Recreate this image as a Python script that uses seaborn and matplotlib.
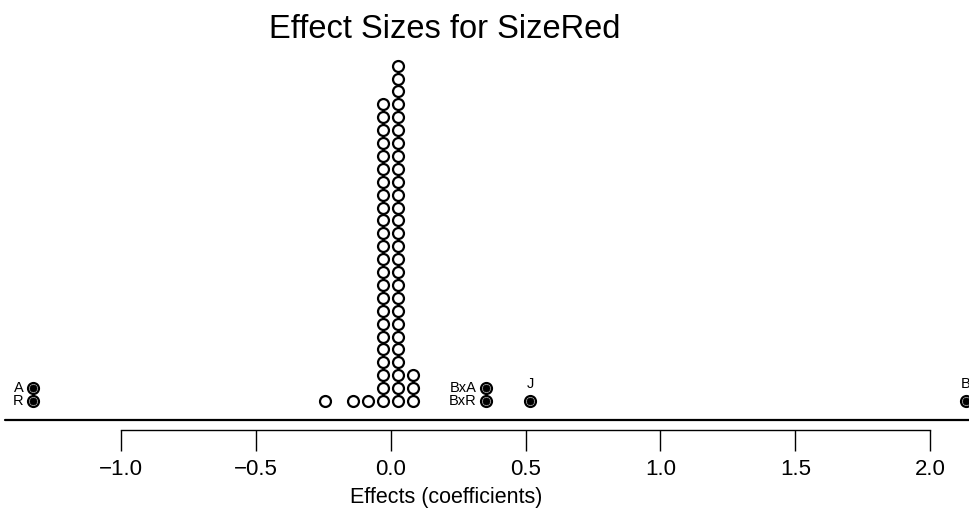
import matplotlib
matplotlib.use("Agg")
import matplotlib.pyplot as plt
import numpy as np
import pandas as pd
import seaborn as sns

# ---- data ----
null_values = [-0.243, -0.140, -0.084, -0.028, 0.027, 0.083]
null_counts = [1, 1, 1, 24, 27, 3]
named_effects = ["R", "A", "BxR", "BxA", "J", "B"]
named_values = [-1.326, -1.326, 0.354, 0.354, 0.517, 2.133]
tick_values = [-1.0, -0.5, 0.0, 0.5, 1.0, 1.5, 2.0]
tick_labels = ["\u22121.0", "\u22120.5", "0.0", "0.5", "1.0", "1.5", "2.0"]
title = "Effect Sizes for SizeRed"
xlabel = "Effects (coefficients)"

sns.set_theme(style="white")
plt.rcParams["font.family"] = ["Liberation Sans", "DejaVu Sans"]
plt.rcParams["text.color"] = "black"
plt.rcParams["axes.labelcolor"] = "black"
plt.rcParams["xtick.color"] = "black"

# stacked dot positions
rows = []
for v, c in zip(null_values, null_counts):
    for k in range(c):
        rows.append({"effect": v, "level": k + 1})
null_df = pd.DataFrame(rows)

lvl = []
seen = {}
for v in named_values:
    seen[v] = seen.get(v, 0) + 1
    lvl.append(seen[v])
named_df = pd.DataFrame({"name": named_effects, "effect": named_values, "level": lvl})
dup = named_df.groupby("effect")["name"].transform("count") > 1
named_df["side"] = np.where(dup, "left", "above")

W, H = 969, 518
fig = plt.figure(figsize=(W / 100, H / 100), dpi=100)
base_px = 420
top_px = 50
ax = fig.add_axes([0, (H - base_px) / H, 1, (base_px - top_px) / H])
px_per_unit = 269.7
x0 = -1.0 - 121 / px_per_unit
x1 = x0 + W / px_per_unit
ax.set_xlim(x0, x1)
step = 12.9
y_base = (413.9 - base_px) / step
y_top = (413.9 - top_px) / step
ax.set_ylim(y_base, y_top)

sns.scatterplot(data=null_df, x="effect", y="level", ax=ax, s=62, marker="o",
                facecolor="white", edgecolor="black", linewidth=1.6, zorder=3,
                legend=False, clip_on=False)
sns.scatterplot(data=named_df, x="effect", y="level", ax=ax, s=62, marker="o",
                facecolor="white", edgecolor="black", linewidth=1.6, zorder=3,
                legend=False, clip_on=True)
sns.scatterplot(data=named_df, x="effect", y="level", ax=ax, s=26, marker="o",
                facecolor="black", edgecolor="black", linewidth=0.5, zorder=4,
                legend=False, clip_on=True)

for _, r in named_df.iterrows():
    if r["side"] == "left":
        ax.annotate(r["name"], (r["effect"], r["level"]), xytext=(-7, 0),
                    textcoords="offset points", ha="right", va="center",
                    fontsize=10.5, color="black")
    else:
        ax.annotate(r["name"], (r["effect"], r["level"]), xytext=(0, 12),
                    textcoords="offset points", ha="center", va="center",
                    fontsize=10.5, color="black")

# baseline
ax.plot([x0 + 5 / px_per_unit, x1 + 1], [y_base, y_base], color="black",
        lw=1.6, clip_on=False, zorder=2)

for s in ["top", "right", "left"]:
    ax.spines[s].set_visible(False)
ax.spines["bottom"].set_position(("outward", 7))
ax.spines["bottom"].set_bounds(tick_values[0], tick_values[-1])
ax.spines["bottom"].set_linewidth(1.0)
ax.spines["bottom"].set_color("black")
ax.set_xticks(tick_values)
ax.set_xticklabels(tick_labels)
ax.tick_params(axis="x", direction="out", length=15, width=1.0, pad=6,
               labelsize=16, colors="black", bottom=True)
ax.set_yticks([])
ax.set_ylabel("")
ax.set_xlabel(xlabel, fontsize=15.5, color="black")
ax.xaxis.set_label_coords(446 / W, (base_px - 497) / (base_px - top_px))
ax.xaxis.label.set_va("center")

fig.text(445 / W, 1 - 30 / H, title, ha="center", va="center", fontsize=23.5,
         color="black")

fig.savefig("out.png", dpi=100)
